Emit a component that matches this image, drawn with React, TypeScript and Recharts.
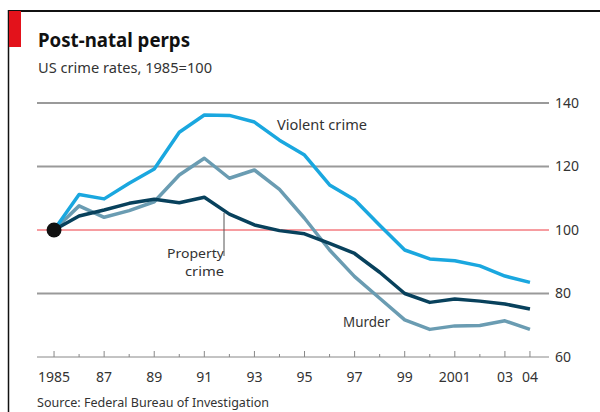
import React from "react";
import { LineChart, Line, XAxis, YAxis, ReferenceLine, ReferenceDot } from "recharts";

const years = [1985, 1986, 1987, 1988, 1989, 1990, 1991, 1992, 1993, 1994, 1995, 1996, 1997, 1998, 1999, 2000, 2001, 2002, 2003, 2004];
const violent = [100, 111.2, 109.8, 114.7, 119.2, 130.8, 136.2, 136.1, 134, 128.3, 123.6, 114.2, 109.5, 101.5, 93.7, 90.9, 90.3, 88.7, 85.5, 83.5];
const property = [100, 104.4, 106.3, 108.4, 109.7, 108.6, 110.3, 105, 101.6, 99.8, 98.8, 95.8, 92.6, 86.7, 80, 77.2, 78.3, 77.6, 76.7, 75.1];
const murder = [100, 107.6, 104, 106.1, 108.9, 117.3, 122.6, 116.3, 118.9, 112.8, 103.7, 93.7, 85.3, 78.5, 71.7, 68.7, 69.8, 69.9, 71.4, 68.7];
const yTicks = [60, 80, 100, 120, 140];
const xTickLabels: Record<number, string> = {
  1985: "1985", 1987: "87", 1989: "89", 1991: "91", 1993: "93", 1995: "95",
  1997: "97", 1999: "99", 2001: "2001", 2003: "03", 2004: "04",
};
const greyLines = [140, 120, 80];

const data = years.map((y, i) => ({ year: y, violent: violent[i], property: property[i], murder: murder[i] }));

const FONT = "'Noto Sans', 'Open Sans', sans-serif";
const TEXT = "#333";

const XTick = (props: any) => {
  const { x, y, payload } = props;
  const label = xTickLabels[payload.value];
  const major = label !== undefined;
  return (
    <g>
      <line x1={x} x2={x} y1={y} y2={y - (major ? 6 : 3)} stroke="#888" strokeWidth={1} />
      {major && (
        <text x={x} y={y + 25} textAnchor="middle" fontSize={14} fill={TEXT} fontFamily={FONT}>
          {label}
        </text>
      )}
    </g>
  );
};

export default function App() {
  return (
    <div style={{ position: "fixed", left: 0, top: 0, width: 600, height: 412, background: "#fff" }}>
      <LineChart
        width={600}
        height={412}
        data={data}
        margin={{ top: 103, right: 0, bottom: 0, left: 37 }}
      >
        <XAxis
          dataKey="year"
          type="number"
          domain={[1984.32, 2004.76]}
          ticks={years}
          interval={0}
          height={55}
          tickSize={0}
          tickMargin={0}
          tickLine={false}
          axisLine={{ stroke: "#888", strokeWidth: 1 }}
          tick={<XTick />}
        />
        <YAxis
          orientation="right"
          type="number"
          domain={[60, 140]}
          ticks={yTicks}
          width={51}
          axisLine={false}
          tickLine={false}
          tickSize={0}
          tickMargin={6}
          tick={{ fill: TEXT, fontSize: 14, fontFamily: FONT, textAnchor: "start" }}
        />
        {greyLines.map((v) => (
          <ReferenceLine key={v} y={v} stroke="#9a9a9a" strokeWidth={2} />
        ))}
        <ReferenceLine y={100} stroke="#ee3b42" strokeWidth={1} />
        <Line dataKey="murder" stroke="#6a9cb2" strokeWidth={3.5} dot={false} isAnimationActive={false} strokeLinejoin="round" />
        <Line dataKey="violent" stroke="#1aa7df" strokeWidth={3.5} dot={false} isAnimationActive={false} strokeLinejoin="round" />
        <Line dataKey="property" stroke="#08415c" strokeWidth={3.5} dot={false} isAnimationActive={false} strokeLinejoin="round" />
        <ReferenceDot x={years[0]} y={property[0]} r={7.5} fill="#111" stroke="none" />
      </LineChart>
      <svg width={600} height={412} style={{ position: "absolute", left: 0, top: 0, pointerEvents: "none" }}>
        <line x1={8} x2={600} y1={11} y2={11} stroke="#111" strokeWidth={2} />
        <line x1={8.5} x2={8.5} y1={10} y2={412} stroke="#111" strokeWidth={1.5} />
        <rect x={9} y={11} width={12} height={36} fill="#e3121b" />
        <text x={38} y={47} fontSize={20} fontWeight="bold" fill="#111" fontFamily={FONT} textLength={152} lengthAdjust="spacingAndGlyphs">
          Post-natal perps
        </text>
        <text x={38} y={73} fontSize={14} fill={TEXT} fontFamily={FONT} textLength={174} lengthAdjust="spacingAndGlyphs">
          US crime rates, 1985=100
        </text>
        <text x={37} y={407} fontSize={13} fill={TEXT} fontFamily={FONT} textLength={232} lengthAdjust="spacingAndGlyphs">
          Source: Federal Bureau of Investigation
        </text>
        <text x={277} y={130} fontSize={14} fill={TEXT} fontFamily={FONT} textLength={90} lengthAdjust="spacingAndGlyphs">
          Violent crime
        </text>
        <text x={343} y={327} fontSize={14} fill={TEXT} fontFamily={FONT} textLength={47} lengthAdjust="spacingAndGlyphs">
          Murder
        </text>
        <text x={224} y={258} fontSize={13} fill={TEXT} fontFamily={FONT} textAnchor="end" textLength={57} lengthAdjust="spacingAndGlyphs">
          Property
        </text>
        <text x={224} y={276} fontSize={13} fill={TEXT} fontFamily={FONT} textAnchor="end" textLength={39} lengthAdjust="spacingAndGlyphs">
          crime
        </text>
        <line x1={224} x2={224} y1={213} y2={256} stroke="#555" strokeWidth={1} />
      </svg>
    </div>
  );
}
